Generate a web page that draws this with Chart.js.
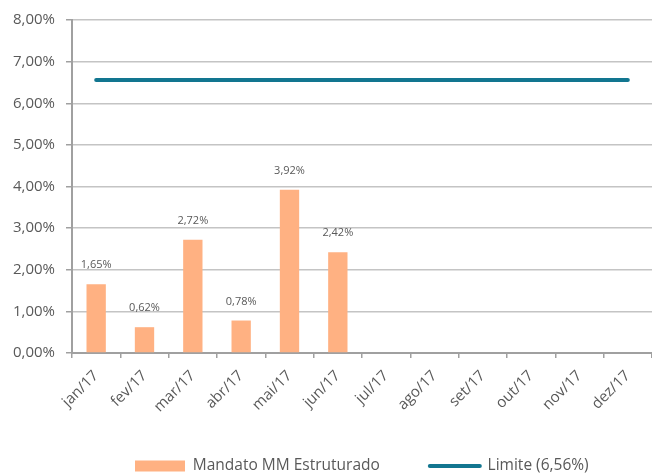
<!DOCTYPE html>
<html>
<head>
<meta charset="utf-8">
<script src="https://cdn.jsdelivr.net/npm/chart.js@4.4.1/dist/chart.umd.min.js"></script>
<style>
  html, body { margin: 0; padding: 0; background: #ffffff; }
  #wrap { width: 652px; height: 474px; position: relative; }
</style>
</head>
<body>
<div id="wrap"><canvas id="c" width="652" height="474"></canvas></div>
<script>
const categories = ['jan/17','fev/17','mar/17','abr/17','mai/17','jun/17','jul/17','ago/17','set/17','out/17','nov/17','dez/17'];
const mandatoValues = [1.65, 0.62, 2.72, 0.78, 3.92, 2.42, null, null, null, null, null, null];
const limiteValues = [6.56, 6.56, 6.56, 6.56, 6.56, 6.56, 6.56, 6.56, 6.56, 6.56, 6.56, 6.56];
const yTickLabels = ['0,00%','1,00%','2,00%','3,00%','4,00%','5,00%','6,00%','7,00%','8,00%'];
const seriesNames = ['Mandato MM Estruturado', 'Limite (6,56%)'];

const BAR_COLOR = '#ffb182';
const LINE_COLOR = '#127690';
const TEXT_COLOR = '#595959';
const FONT = "'Open Sans', sans-serif";
const LEGEND_PAD = 50;

function fmtPct(v) { return v.toFixed(2).replace('.', ',') + '%'; }

const dataLabelPlugin = {
  id: 'barDataLabels',
  afterDatasetsDraw(chart) {
    const ctx = chart.ctx;
    const meta = chart.getDatasetMeta(0);
    ctx.save();
    ctx.font = '11px ' + FONT;
    ctx.fillStyle = TEXT_COLOR;
    ctx.textAlign = 'center';
    ctx.textBaseline = 'middle';
    meta.data.forEach((el, i) => {
      const v = mandatoValues[i];
      if (v === null || v === undefined) return;
      ctx.fillText(fmtPct(v), el.x, el.y - 19);
    });
    ctx.restore();
  }
};

const legendShiftPlugin = {
  id: 'legendShift',
  afterLayout(chart) {
    const l = chart.legend;
    if (l && l.lineWidths) {
      const start = (l.left + LEGEND_PAD + l.right - l.lineWidths[0]) / 2;
      const dx = 135 - start;
      l.left += dx; l.right += dx;
      const itemCenter = l.top + LEGEND_PAD + 7.75;
      const dy = 466 - itemCenter;
      l.top += dy; l.bottom += dy;
    }
    const xs = chart.scales.x;
    if (xs) { xs.bottom = xs.top + 80; xs.height = 80; }
  }
};

new Chart(document.getElementById('c'), {
  type: 'bar',
  data: {
    labels: categories,
    datasets: [
      {
        type: 'bar',
        label: seriesNames[0],
        data: mandatoValues,
        backgroundColor: BAR_COLOR,
        borderWidth: 0,
        barPercentage: 0.4,
        categoryPercentage: 1.0,
        order: 2
      },
      {
        type: 'line',
        label: seriesNames[1],
        data: limiteValues,
        borderColor: LINE_COLOR,
        backgroundColor: LINE_COLOR,
        borderWidth: 4,
        borderCapStyle: 'round',
        pointRadius: 0,
        fill: false,
        tension: 0,
        order: 1
      }
    ]
  },
  options: {
    responsive: false,
    animation: false,
    devicePixelRatio: 1,
    layout: { padding: { top: 20, right: 0, left: 0, bottom: 0 } },
    plugins: {
      tooltip: { enabled: false },
      legend: {
        position: 'bottom',
        labels: {
          font: { family: FONT, size: 15.5 },
          color: TEXT_COLOR,
          usePointStyle: true,
          pointStyleWidth: 50,
          boxHeight: 11,
          padding: LEGEND_PAD,
          generateLabels() {
            return [
              { text: seriesNames[0], fillStyle: BAR_COLOR, strokeStyle: BAR_COLOR, lineWidth: 0, pointStyle: 'rect', datasetIndex: 0, hidden: false, fontColor: TEXT_COLOR },
              { text: seriesNames[1], fillStyle: LINE_COLOR, strokeStyle: LINE_COLOR, lineWidth: 4, lineCap: 'round', pointStyle: 'line', datasetIndex: 1, hidden: false, fontColor: TEXT_COLOR }
            ];
          }
        }
      }
    },
    scales: {
      x: {
        offset: true,
        grid: {
          display: true,
          drawOnChartArea: false,
          offset: true,
          tickLength: 5,
          color: '#a0a0a0',
          lineWidth: 1.5
        },
        border: { display: true, color: '#a0a0a0', width: 2 },
        ticks: {
          color: TEXT_COLOR,
          font: { family: FONT, size: 15 },
          minRotation: 45,
          maxRotation: 45,
          autoSkip: false,
          padding: 9
        },
        afterFit(scale) {
          const lh = scale.chart.legend ? scale.chart.legend.height : 0;
          scale.height = Math.max(10, 121 - lh);
        }
      },
      y: {
        min: 0,
        max: 8,
        grid: {
          color: '#c4c4c4',
          lineWidth: 1.5,
          tickLength: 6,
          tickColor: '#a0a0a0'
        },
        border: { display: true, color: '#a0a0a0', width: 2 },
        ticks: {
          stepSize: 1,
          color: TEXT_COLOR,
          font: { family: FONT, size: 15 },
          padding: 11,
          callback(value, index) { return yTickLabels[index]; }
        },
        afterFit(scale) { scale.width = 72; }
      }
    }
  },
  plugins: [dataLabelPlugin, legendShiftPlugin]
});
</script>
</body>
</html>
